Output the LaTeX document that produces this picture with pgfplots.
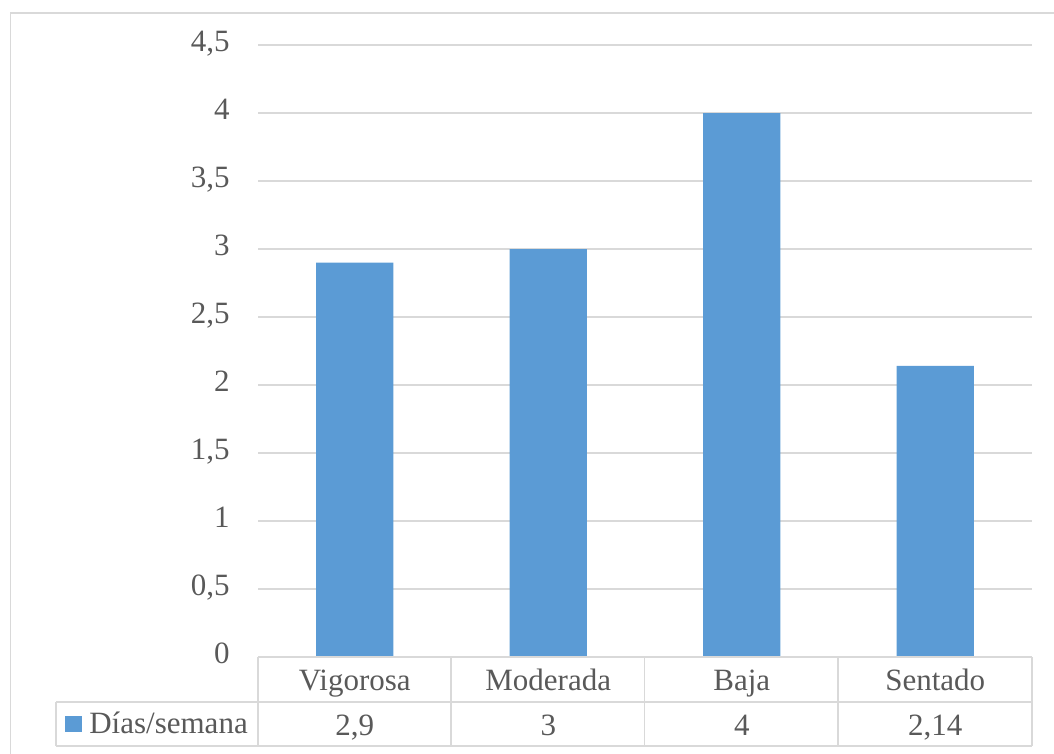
\documentclass[border=0pt]{standalone}
\usepackage{fontspec}
\setmainfont{Liberation Serif}
\usepackage{pgfplots}
\usepackage{pgfplotstable}
\pgfplotsset{compat=1.18}

\definecolor{barblue}{HTML}{5B9BD5}
\definecolor{gridgray}{HTML}{D9D9D9}
\definecolor{textgray}{HTML}{595959}

% Días por semana según nivel de actividad
\pgfplotstableread{
idx cat dias
0 Vigorosa 2.9
1 Moderada 3
2 Baja 4
3 Sentado 2.14
}\datos

\newcommand{\chartfont}{\fontsize{15.5}{18}\selectfont}

\begin{document}
\begin{tikzpicture}
% page frame: 1054 x 754 units of 0.5pt
\path[use as bounding box] (0pt,0pt) rectangle (527pt,-377pt);
\draw[gridgray, line width=0.9pt] (5.25pt,-377pt) -- (5.25pt,-6.5pt) -- (527pt,-6.5pt);

\begin{axis}[
  at={(129pt,-328.5pt)}, anchor=south west,
  scale only axis,
  width=387pt, height=306pt,
  xmin=-0.5, xmax=3.5,
  ymin=0, ymax=4.5,
  clip=false,
  axis line style={draw=none},
  major tick length=0pt,
  ymajorgrids,
  grid style={gridgray, line width=0.75pt},
  ytick={0,0.5,1,1.5,2,2.5,3,3.5,4,4.5},
  xtick={0,1,2,3},
  xticklabels from table={\datos}{cat},
  /pgf/number format/use comma,
  /pgf/number format/assume math mode=true,
  yticklabel style={anchor=east, inner sep=0pt, xshift=-14pt,
    text height=0.66em, text depth=0pt, font=\chartfont, text=textgray},
  xticklabel style={anchor=base, inner sep=0pt, yshift=-16.5pt,
    font=\chartfont, text=textgray},
  legend style={at={(-0.2494,-0.1095)}, anchor=west, draw=none, fill=none,
    inner sep=0pt, font=\chartfont, text=textgray,
    nodes={inner sep=0pt}},
  legend image code/.code={\fill[barblue] (0pt,-4pt) rectangle (8.5pt,4pt);},
  legend cell align=left,
]
\addplot[ybar, fill=barblue, draw=none, bar width=0.4]
  table[x=idx, y=dias] {\datos};
\addlegendentry{\hspace{3.5pt}Días/semana}

% values in the data-table row
\addplot[forget plot, draw=none, mark=none,
  nodes near coords, point meta=explicit,
  nodes near coords style={anchor=base, inner sep=0pt, font=\chartfont,
    text=textgray}]
  table[x=idx, y expr=-0.5735, meta=dias] {\datos};
\end{axis}

% data-table grid
\begin{scope}[x=0.5pt, y=-0.5pt, gridgray, line width=0.9pt]
\draw (258,657) -- (1032,657);
\draw (56,702) -- (1032,702);
\draw (56,746) -- (1032,746);
\draw (56,702) -- (56,746);
\foreach \xv in {258,451.25,644.5,837.75,1032}
  \draw (\xv,657) -- (\xv,746);
\end{scope}
\end{tikzpicture}
\end{document}
